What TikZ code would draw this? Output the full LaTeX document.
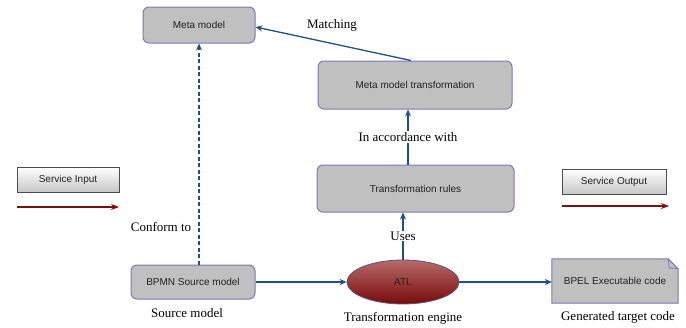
\documentclass[tikz,border=0pt]{standalone}
\usepackage{fontspec}
\setmainfont{Liberation Serif}
\setsansfont{Liberation Sans}
\usetikzlibrary{arrows.meta,shapes.geometric,calc}
\definecolor{boxfill}{HTML}{C0C0C0}
\definecolor{boxline}{HTML}{7B78B8}
\definecolor{arrblue}{HTML}{1F4E8C}
\definecolor{arrred}{HTML}{7A1010}
\definecolor{txtgray}{HTML}{222222}
\definecolor{atltop}{HTML}{B86A6A}
\definecolor{atlbot}{HTML}{780A0A}
\begin{document}
\begin{tikzpicture}[x=1pt,y=-1pt,
  mbox/.style={draw=boxline,line width=1pt,fill=boxfill,rounded corners=6pt,
    font=\sffamily\fontsize{10}{12}\selectfont,text=txtgray,inner sep=0pt},
  svcbox/.style={draw=black!70,line width=0.8pt,top color=white,bottom color=black!22,
    font=\sffamily\fontsize{10}{12}\selectfont,text=txtgray,inner sep=0pt},
  lbl/.style={font=\fontsize{13}{15}\selectfont,text=black,inner sep=1pt},
  conn/.style={draw=arrblue,line width=1.3pt,-{Stealth[length=7pt,width=6pt]}},
  redarr/.style={draw=arrred,line width=1.5pt,-{Stealth[length=8pt,width=6pt]}}]
\useasboundingbox (0,0) rectangle (686,327);

\node[mbox,minimum width=112pt,minimum height=36pt] (meta) at (199,25) {Meta model};
\node[mbox,minimum width=194pt,minimum height=48pt] (mmt) at (415,85) {Meta model transformation};
\node[mbox,minimum width=197pt,minimum height=47pt] (tr) at (415.5,188.5) {Transformation rules};
\node[mbox,minimum width=124pt,minimum height=34pt] (bpmn) at (193,282) {BPMN Source model};
\node[ellipse,draw=boxline!70!black,line width=0.8pt,top color=atltop,bottom color=atlbot,
  minimum width=112pt,minimum height=44pt,inner sep=0pt,
  font=\sffamily\fontsize{10}{12}\selectfont,text=txtgray] (atl) at (403,282) {ATL};
\node[font=\sffamily\fontsize{10}{12}\selectfont,text=txtgray,inner sep=0pt,
  minimum width=126pt,minimum height=44pt] (bpel) at (615,281) {};
\draw[boxline,line width=1pt,fill=boxfill]
  (bpel.north west) -- ([xshift=-10pt]bpel.north east) -- ([yshift=-10pt]bpel.north east)
  -- (bpel.south east) -- (bpel.south west) -- cycle;
\draw[boxline,line width=0.8pt] ([xshift=-10pt]bpel.north east) -- ([xshift=-9pt,yshift=-9pt]bpel.north east) -- ([yshift=-10pt]bpel.north east);
\node[font=\sffamily\fontsize{10}{12}\selectfont,text=txtgray,inner sep=0pt] (bpeltxt) at (bpel.center) {BPEL Executable code};
\node[svcbox,minimum width=102pt,minimum height=25pt] (sin) at (68,179.5) {Service Input};
\node[svcbox,minimum width=104pt,minimum height=25pt] (sout) at (614,181.5) {Service Output};

% red arrows
\coordinate (sina) at (17,207);
\coordinate (sinb) at (119,207);
\draw[redarr] (sina) -- (sinb);
\coordinate (souta) at (562,206);
\coordinate (soutb) at (669,206);
\draw[redarr] (souta) -- (soutb);

% connectors
\draw[conn] ([xshift=-4pt]mmt.north) -- ([yshift=-2pt]meta.east);
\node[lbl] (lmatch) at (332,25) {Matching};
\draw[conn] ([xshift=-7.5pt]tr.north) -- node[lbl,fill=white] (lacc) {In accordance with} ([xshift=-7.5pt]tr.north |- mmt.south);
\draw[conn] (atl.north) -- node[lbl,fill=white] (luses) {Uses} (atl.north |- tr.south);
\draw[conn,dashed,dash pattern=on 4pt off 2.5pt] (bpmn.north -| meta.south) -- (meta.south);
\draw[conn] (bpmn.east) -- (bpmn.east -| atl.west);
\draw[conn] (atl.east) -- (atl.east -| bpel.west);

% labels
\node[lbl] (lconf) at (161,227) {Conform to};
\node[lbl] (lsrc) at (187,313) {Source model};
\node[lbl] (leng) at (403,318) {Transformation engine};
\node[lbl] (lgen) at (618,317) {Generated target code};
\end{tikzpicture}
\end{document}
